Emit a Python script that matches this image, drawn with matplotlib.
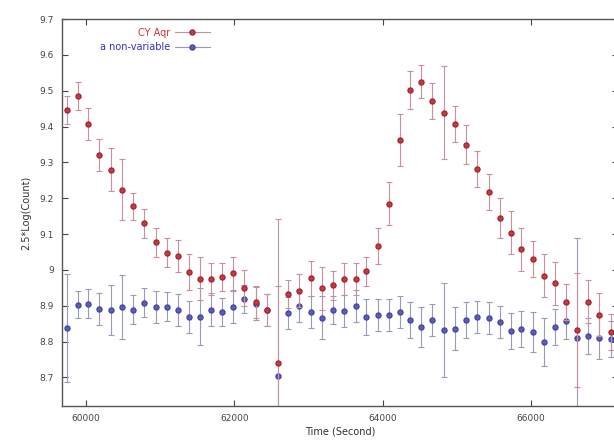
import numpy as np
import matplotlib
matplotlib.use('Agg')
import matplotlib.pyplot as plt
from matplotlib.lines import Line2D

plt.rcParams['font.family'] = ['DejaVu Sans']
plt.rcParams['font.size'] = 7

# time of each exposure (s)
time = [59740, 59888, 60031, 60179, 60337, 60489, 60637, 60785, 60939, 61087,
        61235, 61391, 61535, 61684, 61836, 61984, 62132, 62286, 62434, 62582,
        62725, 62873, 63030, 63182, 63331, 63479, 63632, 63780, 63929, 64081,
        64229, 64373, 64521, 64669, 64826, 64979, 65118, 65270, 65428, 65576,
        65724, 65868, 66024, 66168, 66316, 66474, 66617, 66765, 66913, 67080]

# CY Aqr
cy_mag = [9.446, 9.485, 9.408, 9.320, 9.280, 9.224, 9.177, 9.130, 9.077, 9.048,
          9.038, 8.993, 8.975, 8.975, 8.980, 8.990, 8.950, 8.910, 8.888, 8.741,
          8.933, 8.942, 8.976, 8.948, 8.957, 8.974, 8.975, 8.996, 9.067, 9.185,
          9.363, 9.502, 9.525, 9.472, 9.439, 9.408, 9.349, 9.281, 9.217, 9.145,
          9.103, 9.057, 9.031, 8.984, 8.962, 8.911, 8.832, 8.911, 8.875, 8.827]
cy_err = [0.040, 0.040, 0.045, 0.045, 0.060, 0.085, 0.037, 0.040, 0.040, 0.040,
          0.045, 0.050, 0.060, 0.045, 0.040, 0.045, 0.050, 0.045, 0.045, 0.400,
          0.040, 0.045, 0.050, 0.060, 0.040, 0.045, 0.045, 0.040, 0.050, 0.060,
          0.073, 0.053, 0.046, 0.050, 0.130, 0.050, 0.055, 0.050, 0.050, 0.055,
          0.060, 0.060, 0.050, 0.060, 0.060, 0.050, 0.160, 0.060, 0.060, 0.050]

# comparison star
cmp_mag = [8.838, 8.903, 8.906, 8.891, 8.889, 8.896, 8.889, 8.908, 8.896, 8.897,
           8.888, 8.869, 8.869, 8.889, 8.882, 8.897, 8.919, 8.906, 8.888, 8.704,
           8.880, 8.900, 8.883, 8.866, 8.888, 8.886, 8.900, 8.868, 8.873, 8.873,
           8.882, 8.860, 8.841, 8.859, 8.832, 8.836, 8.859, 8.868, 8.866, 8.854,
           8.829, 8.836, 8.827, 8.800, 8.841, 8.857, 8.810, 8.815, 8.810, 8.806]
cmp_err = [0.150, 0.037, 0.040, 0.045, 0.070, 0.090, 0.040, 0.040, 0.045, 0.040,
           0.045, 0.045, 0.080, 0.045, 0.040, 0.045, 0.040, 0.045, 0.045, 0.250,
           0.045, 0.045, 0.045, 0.060, 0.040, 0.045, 0.045, 0.050, 0.045, 0.045,
           0.045, 0.050, 0.056, 0.045, 0.130, 0.060, 0.050, 0.045, 0.045, 0.045,
           0.050, 0.050, 0.055, 0.067, 0.050, 0.050, 0.280, 0.050, 0.060, 0.050]

fig = plt.figure(figsize=(6.14, 4.43), dpi=100)
ax = fig.add_axes([0.101, 0.0835, 0.905, 0.8736])

ax.errorbar(time, cy_mag, yerr=cy_err, fmt='o', color='#d03838', ms=3.6,
            mec='#a02838', ecolor='#c8909c', elinewidth=0.8, capsize=2.5,
            capthick=0.8, zorder=3)
ax.errorbar(time, cmp_mag, yerr=cmp_err, fmt='o', color='#5a5ac8', ms=3.6,
            mec='#4848a0', ecolor='#9a9ab8', elinewidth=0.8, capsize=2.5,
            capthick=0.8, zorder=2)

ax.set_xlim(59677, 67165)
ax.set_ylim(8.62, 9.7)
ax.set_xticks([60000, 62000, 64000, 66000])
ax.set_yticks([8.7, 8.8, 8.9, 9.0, 9.1, 9.2, 9.3, 9.4, 9.5, 9.6, 9.7])
ax.set_yticklabels(['8.7', '8.8', '8.9', '9', '9.1', '9.2', '9.3', '9.4',
                    '9.5', '9.6', '9.7'])
ax.tick_params(direction='in', top=True, right=True, length=4, width=0.8,
               colors='#444444', labelsize=6.5, pad=6)
for s in ax.spines.values():
    s.set_color('#555555')
    s.set_linewidth(1.0)

ax.set_xlabel('Time (Second)', fontsize=7, color='#333333', labelpad=2)
ax.set_ylabel('2.5*Log(Count)', fontsize=7, color='#333333', labelpad=6)

handles = [Line2D([], [], color='#c8909c', lw=0.8, marker='o', ms=3.6,
                  mfc='#d03838', mec='#a02838'),
           Line2D([], [], color='#9a9ab8', lw=0.8, marker='o', ms=3.6,
                  mfc='#5a5ac8', mec='#4848a0')]
leg = ax.legend(handles, ['CY Aqr', 'a non-variable'], loc='upper right',
                bbox_to_anchor=(0.278, 0.995), markerfirst=False,
                frameon=False, handlelength=3.6, labelspacing=0.45,
                borderpad=0.2, handletextpad=0.5)
leg.get_texts()[0].set_color('#d03030')
leg.get_texts()[1].set_color('#3030c0')

fig.savefig('out.png', dpi=100)
